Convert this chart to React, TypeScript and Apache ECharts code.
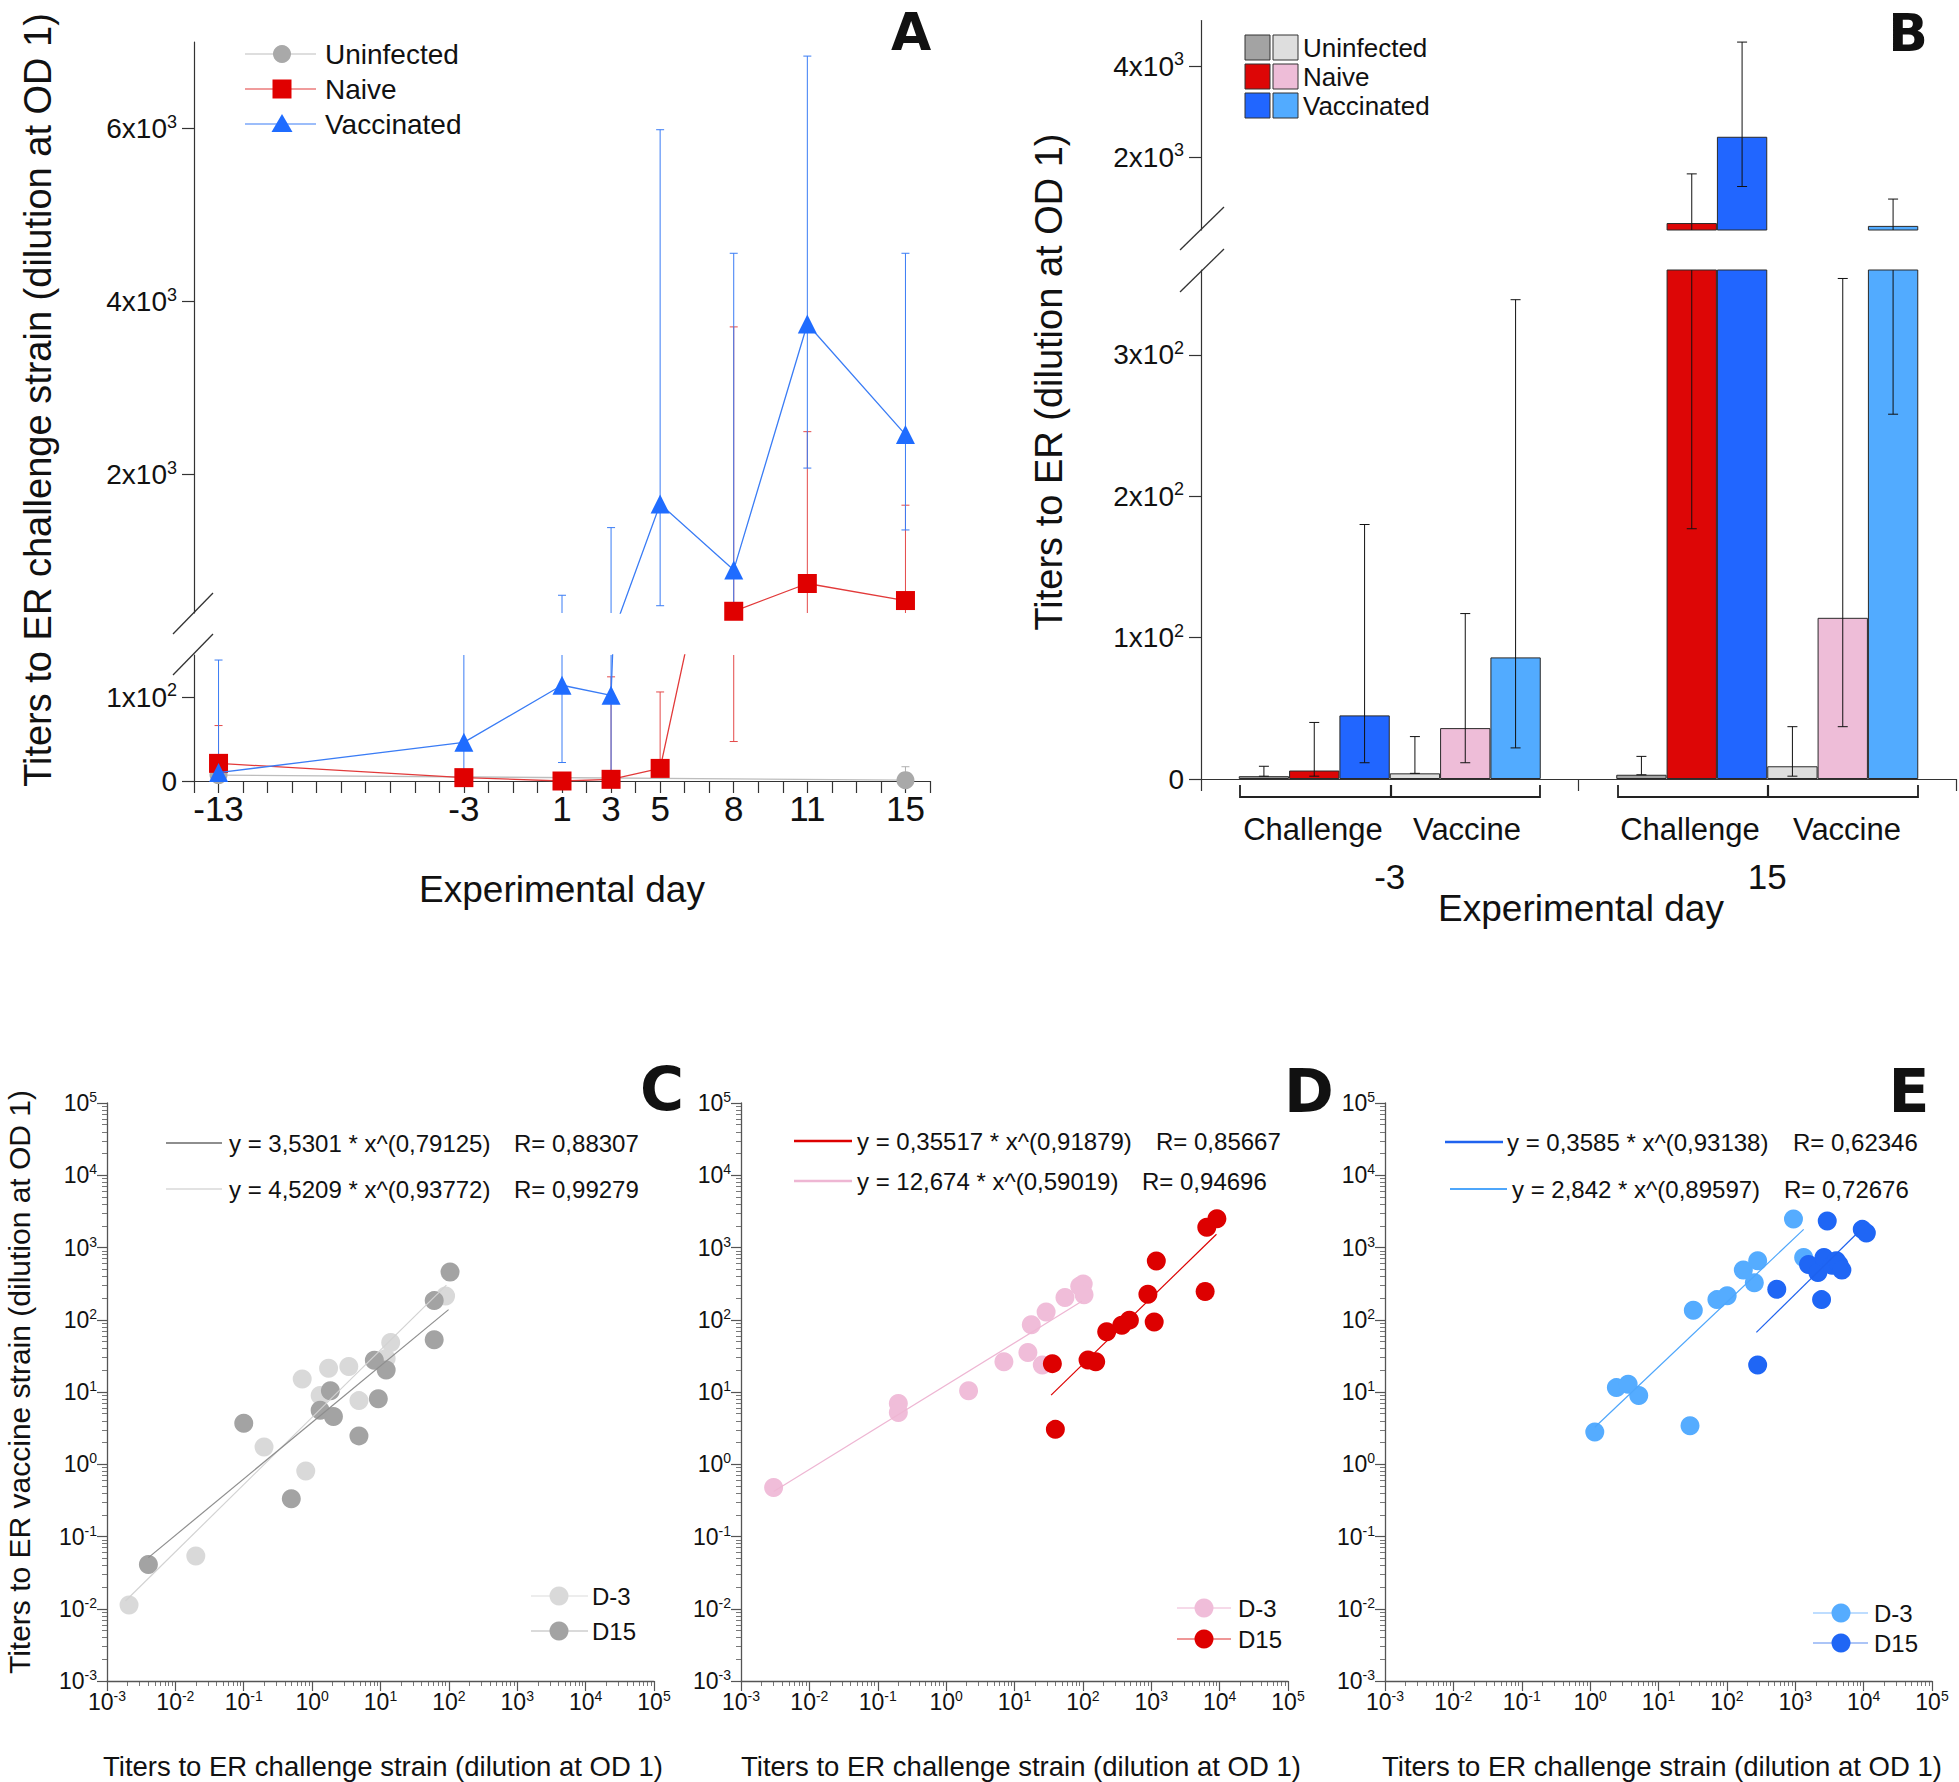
import React, { useEffect, useRef } from "react";
import * as echarts from "echarts";

const FONT = "'Liberation Sans', Arial, Helvetica, sans-serif";
const LETTER_FONT = "'DejaVu Sans', 'Liberation Sans', sans-serif";
const TXT = "#111";
const AXC = "#333";

// ---------------- Panel A (line chart, broken y axis) ----------------
const aDays = [-13, -3, 1, 3, 5, 8, 11, 15];
const aLabelDays = [-13, -3, 1, 3, 5, 8, 11, 15];
const aUninfDays = [-13, 15];
const aUninf = [7, 1];
const aUninfLow = [7, 1];
const aUninfHigh = [7, 17];
const aNaive = [21, 4, 0, 2, 15, 420, 741, 544];
const aNaiveLow = [21, 4, 0, 2, 15, 47, 250, 250];
const aNaiveHigh = [66, 4, 0, 124, 106, 3707, 2496, 1646];
const aVacc = [10, 46, 114, 102, 1660, 898, 3741, 2462];
const aVaccLow = [10, 0, 22, 0, 484, 200, 2075, 1360];
const aVaccHigh = [144, 250, 605, 1387, 5986, 4558, 6837, 4558];
const aLowerTicks = [0, 100];
const aUpperTicks = [2000, 4000, 6000];

// ---------------- Panel B (grouped bars, broken y axis) ----------------
const bDays = ["-3", "15"];
const bUninfChal = [2, 3];
const bUninfChalLow = [2, 3];
const bUninfChalHigh = [9, 16];
const bNaiveChal = [6, 553];
const bNaiveChalLow = [2, 177];
const bNaiveChalHigh = [40, 1632];
const bVaccChal = [45, 2447];
const bVaccChalLow = [11.5, 1355];
const bVaccChalHigh = [180, 4526];
const bUninfVacc = [4, 9];
const bUninfVaccLow = [4, 2];
const bUninfVaccHigh = [30, 37];
const bNaiveVacc = [36, 114];
const bNaiveVaccLow = [11.5, 37];
const bNaiveVaccHigh = [117, 354];
const bVaccVacc = [86, 490];
const bVaccVaccLow = [22, 258];
const bVaccVaccHigh = [339, 1079];
const bLowerTicks = [0, 100, 200, 300];
const bUpperTicks = [2000, 4000];

// ---------------- Panel C ----------------
const cD3 = [
  [0.0021, 0.0113], [0.0199, 0.0537], [0.198, 1.73], [0.807, 0.805], [0.716, 15.1],
  [1.31, 8.95], [1.74, 21.3], [3.44, 22.6], [4.84, 7.6], [12.1, 29.2], [14.1, 48.5], [89.5, 213],
];
const cD15 = [
  [0.00403, 0.041], [0.1, 3.7], [0.496, 0.333], [1.31, 5.6], [1.85, 10.4], [2.05, 4.57],
  [4.84, 2.47], [8.13, 27.5], [12.1, 20.1], [9.29, 8.06], [61, 184], [61, 53], [104, 458],
];
const cFitD3 = [[0.00186, 0.0128], [92, 301]];
const cFitD15 = [[0.00403, 0.051], [99, 138]];

// ---------------- Panel D ----------------
const dD3 = [
  [0.003, 0.477], [0.2, 6.92], [0.2, 5.2], [2.13, 10.4], [7.0, 26.2], [15.7, 35.3], [17.6, 85.3],
  [25.5, 23.6], [29.0, 128], [54.7, 203], [90, 290], [101, 313], [104, 222],
];
const dD15 = [
  [35.8, 24.7], [39.6, 3.04], [119, 27.8], [154, 26.2], [223, 68], [371, 84], [479, 98.8],
  [893, 225], [1104, 93], [1186, 650], [6138, 246], [6490, 1905], [9120, 2495],
];
const dFitD3 = [[0.003, 0.42], [96.6, 180]];
const dFitD15 = [[34.3, 9.06], [8995, 1524]];

// ---------------- Panel E ----------------
const eD3 = [
  [1.17, 2.8], [2.42, 11.5], [3.6, 12.8], [5.14, 8.96], [28.9, 3.4], [32.3, 135], [71.5, 190],
  [101, 215], [174, 488], [252, 326], [282, 656], [942, 2477], [1327, 729],
];
const eD15 = [
  [282, 23.6], [537, 264], [1563, 583], [2143, 452], [2426, 190], [2630, 729], [2937, 2333],
  [3467, 566], [3980, 656], [4365, 583], [4808, 488], [9550, 1782], [10960, 1585],
];
const eFitD3 = [[1.17, 3.25], [1327, 1782]];
const eFitD15 = [[270, 67], [8110, 1585]];

const eqC = ["y = 3,5301 * x^(0,79125)", "R= 0,88307", "y = 4,5209 * x^(0,93772)", "R= 0,99279"];
const eqD = ["y = 0,35517 * x^(0,91879)", "R= 0,85667", "y = 12,674 * x^(0,59019)", "R= 0,94696"];
const eqE = ["y = 0,3585 * x^(0,93138)", "R= 0,62346", "y = 2,842 * x^(0,89597)", "R= 0,72676"];

// -------------------------------------------------------------------
const txt = (text: string, x: number, y: number, size: number, o: any = {}) => ({
  type: "text",
  x,
  y,
  rotation: o.rot || 0,
  z: 100,
  style: {
    text,
    fontSize: size,
    fontFamily: o.family || FONT,
    fontWeight: o.weight || "normal",
    fill: o.fill || TXT,
    align: o.align || "center",
    verticalAlign: "middle",
    textAlign: o.align || "center",
    textVerticalAlign: "middle",
    lineHeight: o.lh || Math.round(size * 1.15),
  },
});
const seg = (x1: number, y1: number, x2: number, y2: number, stroke: string, w = 1.2) => ({
  type: "line",
  z: 100,
  shape: { x1, y1, x2, y2 },
  style: { stroke, lineWidth: w },
});

function errRender(color: string, cap: number, offsetFn?: (api: any) => number) {
  return (params: any, api: any) => {
    const xv = api.value(0);
    const lo = api.value(1);
    const hi = api.value(2);
    const pLo = api.coord([xv, lo]);
    const pHi = api.coord([xv, hi]);
    const cs = params.coordSys;
    const top = cs.y;
    const bot = cs.y + cs.height;
    const clamp = (v: number) => Math.max(top, Math.min(bot, v));
    const yLo = clamp(pLo[1]);
    const yHi = clamp(pHi[1]);
    const px = pLo[0] + (offsetFn ? offsetFn(api) : 0);
    const st = { stroke: color, lineWidth: 1 };
    const children: any[] = [];
    if (yLo - yHi > 0.5) children.push({ type: "line", shape: { x1: px, y1: yLo, x2: px, y2: yHi }, style: st });
    if (pHi[1] >= top - 0.5 && pHi[1] <= bot + 0.5 && hi !== lo)
      children.push({ type: "line", shape: { x1: px - cap, y1: pHi[1], x2: px + cap, y2: pHi[1] }, style: st });
    if (pLo[1] >= top - 0.5 && pLo[1] <= bot + 0.5 && hi !== lo)
      children.push({ type: "line", shape: { x1: px - cap, y1: pLo[1], x2: px + cap, y2: pLo[1] }, style: st });
    return { type: "group", children };
  };
}

function buildOption(): any {
  const supRich = (base: number, sup: number) => ({
    s: { fontSize: sup, fontFamily: FONT, color: TXT, verticalAlign: "top", lineHeight: Math.round(base * 0.55) },
  });
  const linAxisLabel = (vals: number[], fmt: (v: number) => string) => ({
    customValues: vals,
    formatter: fmt,
    fontSize: 28,
    fontFamily: FONT,
    color: TXT,
    margin: 17,
    lineHeight: 32,
    rich: supRich(32, 18),
  });
  const fmtA = (v: number) => (v === 0 ? "0" : v >= 1000 ? `${v / 1000}x10{s|3}` : `${v / 100}x10{s|2}`);

  const grids: any[] = [
    { left: 194, top: 42, width: 736, height: 571 }, // 0 A upper
    { left: 194, top: 655, width: 736, height: 126 }, // 1 A lower
    { left: 1201, top: 20.5, width: 755, height: 209.5 }, // 2 B upper
    { left: 1201, top: 270, width: 755, height: 509 }, // 3 B lower
    { left: 107, top: 1103, width: 547, height: 578 }, // 4 C
    { left: 741, top: 1103, width: 547, height: 578 }, // 5 D
    { left: 1385, top: 1103, width: 547, height: 578 }, // 6 E
  ].map((g) => ({ ...g, containLabel: false, outerBoundsMode: "none" }));

  const axLine = { show: true, onZero: false, lineStyle: { color: AXC, width: 1.2 } };
  const xAxis: any[] = [];
  const yAxis: any[] = [];

  // A
  xAxis.push({ gridIndex: 0, type: "value", min: -14, max: 16, show: false });
  xAxis.push({
    gridIndex: 1, type: "value", min: -14, max: 16, interval: 1,
    axisLine: axLine,
    axisTick: { show: true, length: 12, lineStyle: { color: AXC, width: 1.2 } },
    axisLabel: {
      formatter: (v: number) => (aLabelDays.includes(v) ? String(v) : ""),
      fontSize: 35, fontFamily: FONT, color: TXT, margin: 10,
    },
    splitLine: { show: false },
  });
  yAxis.push({
    gridIndex: 0, type: "value", min: 400, max: 7000,
    axisLine: axLine,
    axisTick: { show: true, customValues: aUpperTicks, length: 12, lineStyle: { color: AXC, width: 1.2 } },
    axisLabel: linAxisLabel(aUpperTicks, fmtA),
    splitLine: { show: false },
  });
  yAxis.push({
    gridIndex: 1, type: "value", min: 0, max: 150,
    axisLine: axLine,
    axisTick: { show: true, customValues: aLowerTicks, length: 12, lineStyle: { color: AXC, width: 1.2 } },
    axisLabel: linAxisLabel(aLowerTicks, fmtA),
    splitLine: { show: false },
  });

  // B
  xAxis.push({ gridIndex: 2, type: "category", data: bDays, show: false });
  xAxis.push({
    gridIndex: 3, type: "category", data: bDays,
    axisLine: axLine,
    axisTick: { show: true, length: 12, lineStyle: { color: AXC, width: 1.2 } },
    axisLabel: { fontSize: 35, fontFamily: FONT, color: TXT, margin: 80 },
  });
  yAxis.push({
    gridIndex: 2, type: "value", min: 400, max: 5000,
    axisLine: axLine,
    axisTick: { show: true, customValues: bUpperTicks, length: 12, lineStyle: { color: AXC, width: 1.2 } },
    axisLabel: linAxisLabel(bUpperTicks, fmtA),
    splitLine: { show: false },
  });
  yAxis.push({
    gridIndex: 3, type: "value", min: 0, max: 360,
    axisLine: axLine,
    axisTick: { show: true, customValues: bLowerTicks, length: 12, lineStyle: { color: AXC, width: 1.2 } },
    axisLabel: linAxisLabel(bLowerTicks, fmtA),
    splitLine: { show: false },
  });

  // C, D, E log axes
  const logAxis = (gi: number, isX: boolean) => ({
    gridIndex: gi, type: "log", logBase: 10, min: 0.001, max: 100000, splitNumber: 8,
    axisLine: { show: true, onZero: false, lineStyle: { color: "#555", width: 1.3 } },
    axisTick: { show: true, length: 10, lineStyle: { color: "#555", width: 1.2 } },
    minorTick: { show: true, splitNumber: 9, length: 5, lineStyle: { color: "#555", width: 0.8 } },
    axisLabel: {
      formatter: (v: number) => `10{s|${Math.round(Math.log10(v))}}`,
      fontSize: 23, fontFamily: FONT, color: TXT, margin: isX ? 8 : 10, lineHeight: 26,
      rich: { s: { fontSize: 14, fontFamily: FONT, color: TXT, verticalAlign: "top", lineHeight: 14 } },
    },
    splitLine: { show: false },
    minorSplitLine: { show: false },
  });
  [4, 5, 6].forEach((gi) => {
    xAxis.push(logAxis(gi, true));
    yAxis.push(logAxis(gi, false));
  });

  const series: any[] = [];
  // ----- A series: error bars then lines, in both grids
  const aGray = "#a9a9a9";
  const aRed = "#e00000";
  const aBlue = "#1f6cff";
  [0, 1].forEach((gi) => {
    series.push({
      type: "custom", xAxisIndex: gi, yAxisIndex: gi, clip: true, z: 2,
      renderItem: errRender("#b0b0b0", 4),
      encode: { x: 0, y: [1, 2] },
      data: aUninfDays.map((d, i) => [d, aUninfLow[i], aUninfHigh[i]]),
    });
    series.push({
      type: "custom", xAxisIndex: gi, yAxisIndex: gi, clip: true, z: 2,
      renderItem: errRender("#e44a4a", 4),
      encode: { x: 0, y: [1, 2] },
      data: aDays.map((d, i) => [d, aNaiveLow[i], aNaiveHigh[i]]),
    });
    series.push({
      type: "custom", xAxisIndex: gi, yAxisIndex: gi, clip: true, z: 2,
      renderItem: errRender("#3a7cf5", 4),
      encode: { x: 0, y: [1, 2] },
      data: aDays.map((d, i) => [d, aVaccLow[i], aVaccHigh[i]]),
    });
    series.push({
      type: "line", name: "Uninfected", xAxisIndex: gi, yAxisIndex: gi, clip: true, z: 3,
      data: aUninfDays.map((d, i) => [d, aUninf[i]]),
      symbol: "circle", symbolSize: 18,
      itemStyle: { color: aGray }, lineStyle: { color: "#bdbdbd", width: 1.3 },
    });
    series.push({
      type: "line", name: "Naive", xAxisIndex: gi, yAxisIndex: gi, clip: true, z: 4,
      data: aDays.map((d, i) => [d, aNaive[i]]),
      symbol: "rect", symbolSize: 19,
      itemStyle: { color: aRed }, lineStyle: { color: "#e23a3a", width: 1.3 },
    });
    series.push({
      type: "line", name: "Vaccinated", xAxisIndex: gi, yAxisIndex: gi, clip: true, z: 5,
      data: aDays.map((d, i) => [d, aVacc[i]]),
      symbol: "triangle", symbolSize: 19,
      itemStyle: { color: aBlue }, lineStyle: { color: "#3a7cf5", width: 1.3 },
    });
  });

  // ----- B series
  const bSets = [
    { name: "Uninfected (challenge)", v: bUninfChal, lo: bUninfChalLow, hi: bUninfChalHigh, c: "#a3a3a3" },
    { name: "Naive (challenge)", v: bNaiveChal, lo: bNaiveChalLow, hi: bNaiveChalHigh, c: "#dd0606" },
    { name: "Vaccinated (challenge)", v: bVaccChal, lo: bVaccChalLow, hi: bVaccChalHigh, c: "#2166ff" },
    { name: "Uninfected (vaccine)", v: bUninfVacc, lo: bUninfVaccLow, hi: bUninfVaccHigh, c: "#dedede" },
    { name: "Naive (vaccine)", v: bNaiveVacc, lo: bNaiveVaccLow, hi: bNaiveVaccHigh, c: "#eebdd8" },
    { name: "Vaccinated (vaccine)", v: bVaccVacc, lo: bVaccVaccLow, hi: bVaccVaccHigh, c: "#52abff" },
  ];
  [2, 3].forEach((gi) => {
    bSets.forEach((s) => {
      series.push({
        type: "bar", name: s.name, xAxisIndex: gi, yAxisIndex: gi, data: s.v,
        barGap: "0%", barCategoryGap: "20%", clip: true, z: 2,
        itemStyle: { color: s.c, borderColor: "#2a2a2a", borderWidth: 1 },
      });
    });
    bSets.forEach((s, k) => {
      series.push({
        type: "custom", xAxisIndex: gi, yAxisIndex: gi, clip: true, z: 4,
        encode: { x: 0, y: [1, 2] },
        renderItem: errRender("#111", 5, (api: any) => {
          const band = api.size([1, 0])[0];
          const bw = (band * 0.8) / 6;
          return -band * 0.4 + (k + 0.5) * bw;
        }),
        data: bDays.map((_, i) => [i, s.lo[i], s.hi[i]]),
      });
    });
  });

  // ----- C/D/E series
  const panels = [
    { gi: 4, d3: cD3, d15: cD15, f3: cFitD3, f15: cFitD15, c3: "#d9d9d9", c15: "#a3a3a3", l3: "#d2d2d2", l15: "#8e8e8e" },
    { gi: 5, d3: dD3, d15: dD15, f3: dFitD3, f15: dFitD15, c3: "#f0bdd9", c15: "#dd0000", l3: "#eeb6d3", l15: "#dd0000" },
    { gi: 6, d3: eD3, d15: eD15, f3: eFitD3, f15: eFitD15, c3: "#55acff", c15: "#1f66f5", l3: "#4ea6fb", l15: "#1f62ee" },
  ];
  panels.forEach((p) => {
    series.push({
      type: "scatter", name: "D-3", xAxisIndex: p.gi, yAxisIndex: p.gi, data: p.d3,
      symbolSize: 19, itemStyle: { color: p.c3, opacity: 1 }, z: 2,
    });
    series.push({
      type: "scatter", name: "D15", xAxisIndex: p.gi, yAxisIndex: p.gi, data: p.d15,
      symbolSize: 19, itemStyle: { color: p.c15, opacity: 1 }, z: 3,
    });
    series.push({
      type: "line", name: "fit D-3", xAxisIndex: p.gi, yAxisIndex: p.gi, data: p.f3,
      symbol: "none", lineStyle: { color: p.l3, width: 1.2 }, z: 4,
    });
    series.push({
      type: "line", name: "fit D15", xAxisIndex: p.gi, yAxisIndex: p.gi, data: p.f15,
      symbol: "none", lineStyle: { color: p.l15, width: 1.2 }, z: 4,
    });
  });

  // ----- graphic: titles, legends, break marks, brackets
  const g: any[] = [];
  // Panel A
  g.push(txt("Titers to ER challenge strain (dilution at OD 1)", 38, 400, 38, { rot: Math.PI / 2 }));
  g.push(txt("Experimental day", 562, 889, 37));
  g.push(txt("A", 911, 32, 52, { weight: "bold", family: LETTER_FONT, lh: 44 }));
  const aLegY = [54, 89, 124];
  g.push(seg(245, aLegY[0], 316, aLegY[0], "#bdbdbd"));
  g.push({ type: "circle", z: 100, shape: { cx: 282, cy: aLegY[0], r: 9 }, style: { fill: aGray } });
  g.push(txt("Uninfected", 325, aLegY[0], 28, { align: "left", lh: 30 }));
  g.push(seg(245, aLegY[1], 316, aLegY[1], "#e23a3a"));
  g.push({ type: "rect", z: 100, shape: { x: 272.5, y: aLegY[1] - 9.5, width: 19, height: 19 }, style: { fill: aRed } });
  g.push(txt("Naive", 325, aLegY[1], 28, { align: "left", lh: 30 }));
  g.push(seg(245, aLegY[2], 316, aLegY[2], "#3a7cf5"));
  g.push({
    type: "polygon", z: 100,
    shape: { points: [[282, aLegY[2] - 10], [271.5, aLegY[2] + 8], [292.5, aLegY[2] + 8]] },
    style: { fill: aBlue },
  });
  g.push(txt("Vaccinated", 325, aLegY[2], 28, { align: "left", lh: 30 }));
  g.push(seg(173, 634, 213, 593, "#333", 1.3));
  g.push(seg(173, 675, 213, 634, "#333", 1.3));

  // Panel B
  g.push(txt("Titers to ER (dilution at OD 1)", 1049, 382, 38, { rot: Math.PI / 2 }));
  g.push(txt("Experimental day", 1581, 908, 37));
  g.push(txt("B", 1908, 33, 52, { weight: "bold", family: LETTER_FONT, lh: 44 }));
  g.push(txt("Challenge", 1313, 829, 31));
  g.push(txt("Vaccine", 1467, 829, 31));
  g.push(txt("Challenge", 1690, 829, 31));
  g.push(txt("Vaccine", 1847, 829, 31));
  const bracket = (x1: number, xm: number, x2: number) => {
    g.push({
      type: "polyline", z: 100,
      shape: { points: [[x1, 785], [x1, 797], [x2, 797], [x2, 785]] },
      style: { stroke: "#222", lineWidth: 1.8, fill: "none" },
    });
    g.push(seg(xm, 785, xm, 797, "#222", 2.2));
  };
  bracket(1240, 1391, 1540);
  bracket(1618, 1768, 1918);
  const bLegRows = [
    { y: 35, c1: "#a3a3a3", c2: "#dedede", t: "Uninfected" },
    { y: 64, c1: "#dd0606", c2: "#eebdd8", t: "Naive" },
    { y: 93, c1: "#2166ff", c2: "#52abff", t: "Vaccinated" },
  ];
  bLegRows.forEach((r) => {
    g.push({ type: "rect", z: 100, shape: { x: 1245, y: r.y, width: 25, height: 25 }, style: { fill: r.c1, stroke: "#333", lineWidth: 1 } });
    g.push({ type: "rect", z: 100, shape: { x: 1273, y: r.y, width: 25, height: 25 }, style: { fill: r.c2, stroke: "#333", lineWidth: 1 } });
    g.push(txt(r.t, 1303, r.y + 12.5, 26, { align: "left", lh: 28 }));
  });
  g.push(seg(1180, 250, 1224, 207, "#333", 1.3));
  g.push(seg(1180, 292, 1224, 249, "#333", 1.3));

  // Panels C, D, E
  g.push(txt("Titers to ER vaccine strain (dilution at OD 1)", 19, 1382, 30, { rot: Math.PI / 2, lh: 32 }));
  g.push(txt("Titers to ER challenge strain (dilution at OD 1)", 383, 1766, 27.5));
  g.push(txt("Titers to ER challenge strain (dilution at OD 1)", 1021, 1766, 27.5));
  g.push(txt("Titers to ER challenge strain (dilution at OD 1)", 1662, 1766, 27.5));
  g.push(txt("C", 662, 1089, 60, { weight: "bold", family: LETTER_FONT, lh: 48 }));
  g.push(txt("D", 1309, 1091, 60, { weight: "bold", family: LETTER_FONT, lh: 48 }));
  g.push(txt("E", 1909, 1091, 60, { weight: "bold", family: LETTER_FONT, lh: 48 }));

  const eqBlock = (
    eq: string[], rows: number[], l1: number[], l2: number[], t1: number, t2: number, r1: number, r2: number,
    c1: string, c2: string, w1: number, w2: number
  ) => {
    g.push(seg(l1[0], rows[0], l1[1], rows[0], c1, w1));
    g.push(txt(eq[0], t1, rows[0], 24, { align: "left" }));
    g.push(txt(eq[1], r1, rows[0], 24, { align: "left" }));
    g.push(seg(l2[0], rows[1], l2[1], rows[1], c2, w2));
    g.push(txt(eq[2], t2, rows[1], 24, { align: "left" }));
    g.push(txt(eq[3], r2, rows[1], 24, { align: "left" }));
  };
  eqBlock(eqC, [1143, 1189], [166, 222], [166, 222], 229, 229, 514, 514, "#8e8e8e", "#d8d8d8", 2, 1.5);
  eqBlock(eqD, [1141, 1181], [794, 852], [794, 852], 857, 857, 1156, 1142, "#dd0000", "#eeb6d3", 2.5, 2.5);
  eqBlock(eqE, [1142, 1189], [1445, 1503], [1450, 1507], 1507, 1512, 1793, 1784, "#1f62ee", "#4ea6fb", 2.5, 1.8);

  const scLegend = (rows: number[], lx: number[], cx: number, tx: number, c3: string, c15: string, l3: string, l15: string) => {
    g.push(seg(lx[0], rows[0], lx[1], rows[0], l3, 1.2));
    g.push({ type: "circle", z: 100, shape: { cx, cy: rows[0], r: 9.5 }, style: { fill: c3 } });
    g.push(txt("D-3", tx, rows[0], 24, { align: "left" }));
    g.push(seg(lx[0], rows[1], lx[1], rows[1], l15, 1.2));
    g.push({ type: "circle", z: 100, shape: { cx, cy: rows[1], r: 9.5 }, style: { fill: c15 } });
    g.push(txt("D15", tx, rows[1], 24, { align: "left" }));
  };
  scLegend([1596, 1631], [531, 588], 559, 592, "#d9d9d9", "#a3a3a3", "#dcdcdc", "#b5b5b5");
  scLegend([1608, 1639], [1177, 1231], 1204, 1238, "#f0bdd9", "#dd0000", "#eeb6d3", "#e03030");
  scLegend([1613, 1643], [1813, 1868], 1841, 1874, "#55acff", "#1f66f5", "#7fbcff", "#5a8cf0");

  return {
    animation: false,
    backgroundColor: "#ffffff",
    textStyle: { fontFamily: FONT },
    grid: grids,
    xAxis,
    yAxis,
    series,
    graphic: { elements: g },
  };
}

export default function App() {
  const ref = useRef<HTMLDivElement>(null);
  useEffect(() => {
    document.body.style.margin = "0";
    document.body.style.overflow = "hidden";
    const chart = echarts.init(ref.current as HTMLDivElement, null, { renderer: "svg" });
    chart.setOption(buildOption());
    return () => {
      chart.dispose();
    };
  }, []);
  return <div ref={ref} style={{ width: 1959, height: 1782, background: "#fff" }} />;
}
